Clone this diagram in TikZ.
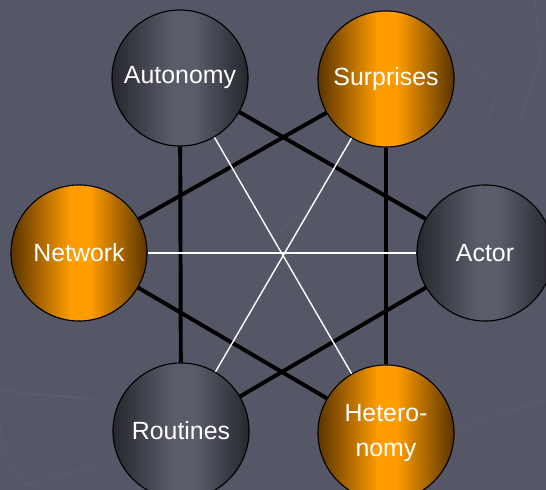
\documentclass[tikz,border=0pt]{standalone}
\usepackage{fontspec}
\setmainfont{Liberation Sans}
\usepackage{xcolor}
\usepackage{tikz}
\usetikzlibrary{calc}

\definecolor{bg}{HTML}{555766}
\definecolor{bgline}{HTML}{5C5E6E}
\definecolor{grayedge}{HTML}{26272E}
\definecolor{graymid}{HTML}{5A5C69}
\definecolor{orangeedge}{HTML}{5A3400}
\definecolor{orangemid}{HTML}{FF9C00}

\pgfdeclarehorizontalshading{grayshade}{100bp}{color(0bp)=(grayedge); color(25bp)=(grayedge);
  color(47bp)=(graymid); color(55bp)=(graymid); color(75bp)=(grayedge); color(100bp)=(grayedge)}
\pgfdeclarehorizontalshading{orangeshade}{100bp}{color(0bp)=(orangeedge); color(25bp)=(orangeedge);
  color(47bp)=(orangemid); color(54bp)=(orangemid); color(75bp)=(orangeedge); color(100bp)=(orangeedge)}

\tikzset{
  ball/.style={circle,draw=black,line width=0.8pt,minimum size=3.4cm,inner sep=0pt,
    text=white,align=center,font=\fontsize{17.7}{24.9}\selectfont},
  grayball/.style={ball,shading=grayshade},
  orangeball/.style={ball,shading=orangeshade},
  thick link/.style={line width=2.8pt,black},
  thin link/.style={line width=1pt,white}
}

\begin{document}
\begin{tikzpicture}[x=0.025cm,y=-0.025cm]

\clip (0,0) rectangle (546,490);
\fill[bg] (0,0) rectangle (546,490);									% Hintergrund

\draw[bgline,line width=0.6pt] (0,395) -- (55,395) -- (95,400) -- (0,390);	% Muster
\draw[bgline,line width=0.6pt] (0,425) -- (3,450) -- (25,485) -- (100,465);
\draw[bgline,line width=0.6pt] (445,25) -- (497,95) -- (487,120);
\draw[bgline,line width=0.6pt] (535,0) -- (540,60) -- (520,120);
\draw[bgline,line width=0.6pt] (275,235) -- (300,215) -- (320,200);
\draw[bgline,line width=0.6pt] (420,450) -- (480,420) -- (546,400);

\node[grayball]   (autonomy)   at (180,78)  {Autonomy};
\node[orangeball] (surprises)  at (386,79)  {Surprises};
\node[orangeball] (network)    at (79,253)  {Network};
\node[grayball]   (actor)      at (485,253) {Actor};
\node[grayball]   (routines)   at (181,431) {Routines};
\node[orangeball] (heteronomy) at (386,433) {Hetero-\\nomy};

\draw[thick link] (autonomy) -- (routines);							% Dreieck 1
\draw[thick link] (autonomy) -- (actor);
\draw[thick link] (routines) -- (actor);
\draw[thick link] (surprises) -- (heteronomy);						% Dreieck 2
\draw[thick link] (surprises) -- (network);
\draw[thick link] (network) -- (heteronomy);
\draw[thin link] (network) -- (actor);								% Gegenueber
\draw[thin link] (autonomy) -- (heteronomy);
\draw[thin link] (surprises) -- (routines);

\end{tikzpicture}
\end{document}
